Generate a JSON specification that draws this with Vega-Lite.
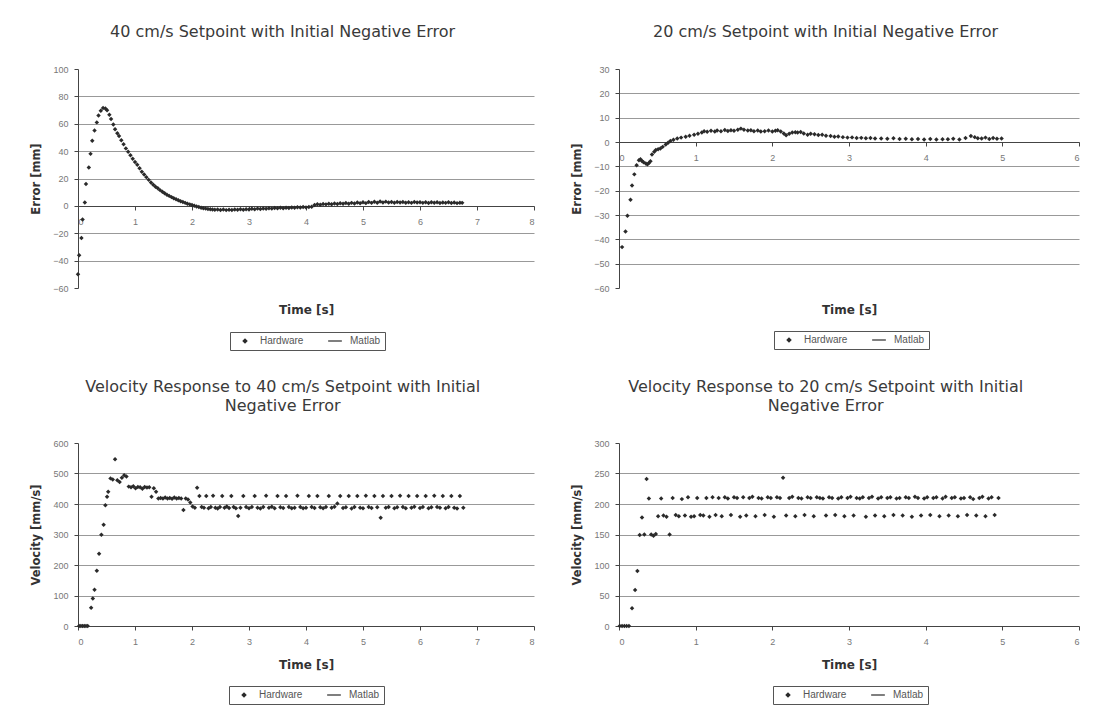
{
  "$schema": "https://vega.github.io/schema/vega-lite/v6.json",
  "background": "white",
  "padding": {"left": 30, "top": 24, "right": 5, "bottom": 5},
  "columns": 2,
  "bounds": "flush",
  "align": "each",
  "spacing": {"row": 155, "column": 85},
  "datasets": {
    "a": [
      {"t":0.00,"v":-50,"s":"Hardware"},{"t":0.02,"v":-36,"s":"Hardware"},{"t":0.06,"v":-23.5,"s":"Hardware"},{"t":0.08,"v":-10,"s":"Hardware"},{"t":0.12,"v":2.5,"s":"Hardware"},{"t":0.14,"v":16,"s":"Hardware"},{"t":0.19,"v":28,"s":"Hardware"},{"t":0.22,"v":38,"s":"Hardware"},{"t":0.25,"v":47.5,"s":"Hardware"},{"t":0.29,"v":55,"s":"Hardware"},{"t":0.33,"v":61,"s":"Hardware"},{"t":0.36,"v":66,"s":"Hardware"},{"t":0.40,"v":69.5,"s":"Hardware"},{"t":0.44,"v":71.5,"s":"Hardware"},{"t":0.48,"v":71.2,"s":"Hardware"},{"t":0.51,"v":69.8,"s":"Hardware"},{"t":0.55,"v":66.5,"s":"Hardware"},{"t":0.58,"v":63.5,"s":"Hardware"},{"t":0.62,"v":59.5,"s":"Hardware"},{"t":0.65,"v":56,"s":"Hardware"},{"t":0.69,"v":53,"s":"Hardware"},{"t":0.72,"v":51,"s":"Hardware"},{"t":0.76,"v":48,"s":"Hardware"},{"t":0.80,"v":45,"s":"Hardware"},{"t":0.84,"v":42,"s":"Hardware"},{"t":0.88,"v":39.5,"s":"Hardware"},{"t":0.92,"v":37,"s":"Hardware"},{"t":0.96,"v":34.5,"s":"Hardware"},{"t":1.00,"v":32,"s":"Hardware"},{"t":1.04,"v":30,"s":"Hardware"},{"t":1.08,"v":27.5,"s":"Hardware"},{"t":1.12,"v":25,"s":"Hardware"},{"t":1.16,"v":23,"s":"Hardware"},{"t":1.20,"v":21,"s":"Hardware"},{"t":1.24,"v":19,"s":"Hardware"},{"t":1.28,"v":17,"s":"Hardware"},{"t":1.32,"v":15.5,"s":"Hardware"},{"t":1.36,"v":14,"s":"Hardware"},{"t":1.40,"v":12.8,"s":"Hardware"},{"t":1.44,"v":11.5,"s":"Hardware"},{"t":1.48,"v":10.3,"s":"Hardware"},{"t":1.52,"v":9.2,"s":"Hardware"},{"t":1.56,"v":8.2,"s":"Hardware"},{"t":1.60,"v":7.3,"s":"Hardware"},{"t":1.64,"v":6.4,"s":"Hardware"},{"t":1.68,"v":5.6,"s":"Hardware"},{"t":1.72,"v":4.8,"s":"Hardware"},{"t":1.76,"v":4.1,"s":"Hardware"},{"t":1.80,"v":3.4,"s":"Hardware"},{"t":1.84,"v":2.8,"s":"Hardware"},{"t":1.88,"v":2.2,"s":"Hardware"},{"t":1.92,"v":1.6,"s":"Hardware"},{"t":1.96,"v":1.1,"s":"Hardware"},{"t":2.00,"v":0.6,"s":"Hardware"},{"t":2.04,"v":0.1,"s":"Hardware"},{"t":2.08,"v":-0.4,"s":"Hardware"},{"t":2.12,"v":-0.9,"s":"Hardware"},{"t":2.16,"v":-1.3,"s":"Hardware"},{"t":2.20,"v":-1.7,"s":"Hardware"},{"t":2.24,"v":-2.0,"s":"Hardware"},{"t":2.28,"v":-2.3,"s":"Hardware"},{"t":2.32,"v":-2.5,"s":"Hardware"},{"t":2.36,"v":-2.7,"s":"Hardware"},{"t":2.40,"v":-2.9,"s":"Hardware"},{"t":2.45,"v":-2.6,"s":"Hardware"},{"t":2.50,"v":-3.0,"s":"Hardware"},{"t":2.55,"v":-2.7,"s":"Hardware"},{"t":2.60,"v":-3.1,"s":"Hardware"},{"t":2.65,"v":-2.8,"s":"Hardware"},{"t":2.70,"v":-3.0,"s":"Hardware"},{"t":2.75,"v":-2.6,"s":"Hardware"},{"t":2.80,"v":-2.9,"s":"Hardware"},{"t":2.85,"v":-2.5,"s":"Hardware"},{"t":2.90,"v":-2.8,"s":"Hardware"},{"t":2.95,"v":-2.4,"s":"Hardware"},{"t":3.00,"v":-2.6,"s":"Hardware"},{"t":3.05,"v":-2.1,"s":"Hardware"},{"t":3.10,"v":-2.4,"s":"Hardware"},{"t":3.15,"v":-2.0,"s":"Hardware"},{"t":3.20,"v":-2.3,"s":"Hardware"},{"t":3.25,"v":-1.9,"s":"Hardware"},{"t":3.30,"v":-2.1,"s":"Hardware"},{"t":3.35,"v":-1.7,"s":"Hardware"},{"t":3.40,"v":-2.0,"s":"Hardware"},{"t":3.45,"v":-1.6,"s":"Hardware"},{"t":3.50,"v":-1.8,"s":"Hardware"},{"t":3.55,"v":-1.4,"s":"Hardware"},{"t":3.60,"v":-1.7,"s":"Hardware"},{"t":3.65,"v":-1.3,"s":"Hardware"},{"t":3.70,"v":-1.5,"s":"Hardware"},{"t":3.75,"v":-1.2,"s":"Hardware"},{"t":3.80,"v":-1.4,"s":"Hardware"},{"t":3.85,"v":-1.0,"s":"Hardware"},{"t":3.90,"v":-1.2,"s":"Hardware"},{"t":3.95,"v":-0.9,"s":"Hardware"},{"t":4.00,"v":-1.1,"s":"Hardware"},{"t":4.05,"v":-0.8,"s":"Hardware"},{"t":4.10,"v":-0.6,"s":"Hardware"},{"t":4.15,"v":0.6,"s":"Hardware"},{"t":4.20,"v":1.2,"s":"Hardware"},{"t":4.25,"v":0.9,"s":"Hardware"},{"t":4.30,"v":1.4,"s":"Hardware"},{"t":4.35,"v":1.1,"s":"Hardware"},{"t":4.40,"v":1.6,"s":"Hardware"},{"t":4.45,"v":1.2,"s":"Hardware"},{"t":4.50,"v":1.8,"s":"Hardware"},{"t":4.55,"v":1.3,"s":"Hardware"},{"t":4.60,"v":1.9,"s":"Hardware"},{"t":4.65,"v":1.5,"s":"Hardware"},{"t":4.70,"v":2.1,"s":"Hardware"},{"t":4.75,"v":1.6,"s":"Hardware"},{"t":4.80,"v":2.2,"s":"Hardware"},{"t":4.85,"v":1.8,"s":"Hardware"},{"t":4.90,"v":2.4,"s":"Hardware"},{"t":4.95,"v":1.9,"s":"Hardware"},{"t":5.00,"v":2.6,"s":"Hardware"},{"t":5.05,"v":2.0,"s":"Hardware"},{"t":5.10,"v":2.8,"s":"Hardware"},{"t":5.15,"v":2.2,"s":"Hardware"},{"t":5.20,"v":3.0,"s":"Hardware"},{"t":5.25,"v":2.3,"s":"Hardware"},{"t":5.30,"v":3.2,"s":"Hardware"},{"t":5.35,"v":2.5,"s":"Hardware"},{"t":5.40,"v":3.1,"s":"Hardware"},{"t":5.45,"v":2.4,"s":"Hardware"},{"t":5.50,"v":2.9,"s":"Hardware"},{"t":5.55,"v":2.3,"s":"Hardware"},{"t":5.60,"v":2.8,"s":"Hardware"},{"t":5.65,"v":2.4,"s":"Hardware"},{"t":5.70,"v":2.9,"s":"Hardware"},{"t":5.75,"v":2.3,"s":"Hardware"},{"t":5.80,"v":2.7,"s":"Hardware"},{"t":5.85,"v":2.2,"s":"Hardware"},{"t":5.90,"v":2.8,"s":"Hardware"},{"t":5.95,"v":2.4,"s":"Hardware"},{"t":6.00,"v":2.7,"s":"Hardware"},{"t":6.05,"v":2.2,"s":"Hardware"},{"t":6.10,"v":2.6,"s":"Hardware"},{"t":6.15,"v":2.1,"s":"Hardware"},{"t":6.20,"v":2.7,"s":"Hardware"},{"t":6.25,"v":2.3,"s":"Hardware"},{"t":6.30,"v":2.6,"s":"Hardware"},{"t":6.35,"v":2.1,"s":"Hardware"},{"t":6.40,"v":2.5,"s":"Hardware"},{"t":6.45,"v":2.2,"s":"Hardware"},{"t":6.50,"v":2.6,"s":"Hardware"},{"t":6.55,"v":2.1,"s":"Hardware"},{"t":6.60,"v":2.4,"s":"Hardware"},{"t":6.65,"v":2.0,"s":"Hardware"},{"t":6.70,"v":2.3,"s":"Hardware"},{"t":6.74,"v":2.2,"s":"Hardware"}
    ],
    "b": [
      {"t":0.04,"v":-43.2,"s":"Hardware"},{"t":0.085,"v":-36.8,"s":"Hardware"},{"t":0.11,"v":-30.3,"s":"Hardware"},{"t":0.15,"v":-23.7,"s":"Hardware"},{"t":0.17,"v":-17.9,"s":"Hardware"},{"t":0.20,"v":-13.3,"s":"Hardware"},{"t":0.23,"v":-9.6,"s":"Hardware"},{"t":0.26,"v":-7.5,"s":"Hardware"},{"t":0.28,"v":-7.1,"s":"Hardware"},{"t":0.30,"v":-7.8,"s":"Hardware"},{"t":0.32,"v":-8.3,"s":"Hardware"},{"t":0.35,"v":-8.8,"s":"Hardware"},{"t":0.37,"v":-9.2,"s":"Hardware"},{"t":0.39,"v":-8.6,"s":"Hardware"},{"t":0.41,"v":-7.9,"s":"Hardware"},{"t":0.43,"v":-5.1,"s":"Hardware"},{"t":0.46,"v":-4.0,"s":"Hardware"},{"t":0.48,"v":-3.3,"s":"Hardware"},{"t":0.51,"v":-3.0,"s":"Hardware"},{"t":0.54,"v":-2.7,"s":"Hardware"},{"t":0.57,"v":-2.0,"s":"Hardware"},{"t":0.61,"v":-1.0,"s":"Hardware"},{"t":0.64,"v":-0.3,"s":"Hardware"},{"t":0.67,"v":0.4,"s":"Hardware"},{"t":0.71,"v":0.9,"s":"Hardware"},{"t":0.76,"v":1.4,"s":"Hardware"},{"t":0.81,"v":1.8,"s":"Hardware"},{"t":0.87,"v":2.2,"s":"Hardware"},{"t":0.92,"v":2.6,"s":"Hardware"},{"t":0.98,"v":3.0,"s":"Hardware"},{"t":1.03,"v":3.4,"s":"Hardware"},{"t":1.08,"v":3.9,"s":"Hardware"},{"t":1.11,"v":4.4,"s":"Hardware"},{"t":1.15,"v":4.2,"s":"Hardware"},{"t":1.20,"v":4.6,"s":"Hardware"},{"t":1.25,"v":4.3,"s":"Hardware"},{"t":1.28,"v":4.7,"s":"Hardware"},{"t":1.33,"v":4.4,"s":"Hardware"},{"t":1.38,"v":4.9,"s":"Hardware"},{"t":1.42,"v":4.5,"s":"Hardware"},{"t":1.46,"v":4.8,"s":"Hardware"},{"t":1.50,"v":4.6,"s":"Hardware"},{"t":1.55,"v":5.0,"s":"Hardware"},{"t":1.59,"v":5.5,"s":"Hardware"},{"t":1.63,"v":5.0,"s":"Hardware"},{"t":1.68,"v":4.7,"s":"Hardware"},{"t":1.72,"v":4.8,"s":"Hardware"},{"t":1.76,"v":4.4,"s":"Hardware"},{"t":1.81,"v":4.7,"s":"Hardware"},{"t":1.85,"v":4.3,"s":"Hardware"},{"t":1.90,"v":4.4,"s":"Hardware"},{"t":1.95,"v":4.7,"s":"Hardware"},{"t":2.00,"v":4.3,"s":"Hardware"},{"t":2.04,"v":4.6,"s":"Hardware"},{"t":2.07,"v":4.8,"s":"Hardware"},{"t":2.11,"v":4.3,"s":"Hardware"},{"t":2.15,"v":3.5,"s":"Hardware"},{"t":2.18,"v":2.8,"s":"Hardware"},{"t":2.22,"v":3.4,"s":"Hardware"},{"t":2.26,"v":3.9,"s":"Hardware"},{"t":2.30,"v":4.0,"s":"Hardware"},{"t":2.33,"v":3.9,"s":"Hardware"},{"t":2.37,"v":4.1,"s":"Hardware"},{"t":2.41,"v":3.5,"s":"Hardware"},{"t":2.46,"v":3.0,"s":"Hardware"},{"t":2.50,"v":3.4,"s":"Hardware"},{"t":2.55,"v":3.2,"s":"Hardware"},{"t":2.60,"v":2.9,"s":"Hardware"},{"t":2.65,"v":3.0,"s":"Hardware"},{"t":2.70,"v":2.6,"s":"Hardware"},{"t":2.76,"v":2.5,"s":"Hardware"},{"t":2.81,"v":2.2,"s":"Hardware"},{"t":2.86,"v":2.3,"s":"Hardware"},{"t":2.92,"v":2.0,"s":"Hardware"},{"t":2.98,"v":1.8,"s":"Hardware"},{"t":3.04,"v":1.9,"s":"Hardware"},{"t":3.10,"v":1.6,"s":"Hardware"},{"t":3.16,"v":1.7,"s":"Hardware"},{"t":3.22,"v":1.5,"s":"Hardware"},{"t":3.28,"v":1.6,"s":"Hardware"},{"t":3.34,"v":1.4,"s":"Hardware"},{"t":3.42,"v":1.4,"s":"Hardware"},{"t":3.50,"v":1.3,"s":"Hardware"},{"t":3.58,"v":1.5,"s":"Hardware"},{"t":3.66,"v":1.2,"s":"Hardware"},{"t":3.74,"v":1.3,"s":"Hardware"},{"t":3.82,"v":1.1,"s":"Hardware"},{"t":3.90,"v":1.2,"s":"Hardware"},{"t":3.98,"v":1.0,"s":"Hardware"},{"t":4.06,"v":1.2,"s":"Hardware"},{"t":4.14,"v":1.0,"s":"Hardware"},{"t":4.22,"v":1.1,"s":"Hardware"},{"t":4.29,"v":1.1,"s":"Hardware"},{"t":4.36,"v":1.3,"s":"Hardware"},{"t":4.44,"v":1.0,"s":"Hardware"},{"t":4.52,"v":1.6,"s":"Hardware"},{"t":4.59,"v":2.5,"s":"Hardware"},{"t":4.64,"v":2.0,"s":"Hardware"},{"t":4.68,"v":1.5,"s":"Hardware"},{"t":4.73,"v":1.4,"s":"Hardware"},{"t":4.78,"v":1.8,"s":"Hardware"},{"t":4.83,"v":1.2,"s":"Hardware"},{"t":4.88,"v":1.6,"s":"Hardware"},{"t":4.93,"v":1.3,"s":"Hardware"},{"t":4.99,"v":1.4,"s":"Hardware"}
    ],
    "c": [
      {"t":0.02,"v":0,"s":"Hardware"},{"t":0.05,"v":0,"s":"Hardware"},{"t":0.08,"v":0,"s":"Hardware"},{"t":0.11,"v":0,"s":"Hardware"},{"t":0.14,"v":0,"s":"Hardware"},{"t":0.17,"v":0,"s":"Hardware"},{"t":0.23,"v":60,"s":"Hardware"},{"t":0.26,"v":90,"s":"Hardware"},{"t":0.29,"v":119,"s":"Hardware"},{"t":0.33,"v":181,"s":"Hardware"},{"t":0.37,"v":237,"s":"Hardware"},{"t":0.41,"v":299,"s":"Hardware"},{"t":0.45,"v":332,"s":"Hardware"},{"t":0.48,"v":396,"s":"Hardware"},{"t":0.51,"v":424,"s":"Hardware"},{"t":0.53,"v":440,"s":"Hardware"},{"t":0.57,"v":484,"s":"Hardware"},{"t":0.61,"v":480,"s":"Hardware"},{"t":0.65,"v":547,"s":"Hardware"},{"t":0.69,"v":478,"s":"Hardware"},{"t":0.73,"v":472,"s":"Hardware"},{"t":0.77,"v":486,"s":"Hardware"},{"t":0.81,"v":494,"s":"Hardware"},{"t":0.85,"v":490,"s":"Hardware"},{"t":0.89,"v":457,"s":"Hardware"},{"t":0.93,"v":455,"s":"Hardware"},{"t":0.97,"v":458,"s":"Hardware"},{"t":1.01,"v":452,"s":"Hardware"},{"t":1.05,"v":456,"s":"Hardware"},{"t":1.09,"v":455,"s":"Hardware"},{"t":1.13,"v":450,"s":"Hardware"},{"t":1.17,"v":456,"s":"Hardware"},{"t":1.21,"v":454,"s":"Hardware"},{"t":1.25,"v":455,"s":"Hardware"},{"t":1.29,"v":424,"s":"Hardware"},{"t":1.33,"v":452,"s":"Hardware"},{"t":1.37,"v":440,"s":"Hardware"},{"t":1.41,"v":418,"s":"Hardware"},{"t":1.45,"v":420,"s":"Hardware"},{"t":1.49,"v":418,"s":"Hardware"},{"t":1.53,"v":421,"s":"Hardware"},{"t":1.57,"v":418,"s":"Hardware"},{"t":1.61,"v":420,"s":"Hardware"},{"t":1.65,"v":417,"s":"Hardware"},{"t":1.69,"v":421,"s":"Hardware"},{"t":1.73,"v":418,"s":"Hardware"},{"t":1.77,"v":420,"s":"Hardware"},{"t":1.81,"v":418,"s":"Hardware"},{"t":1.85,"v":380,"s":"Hardware"},{"t":1.89,"v":418,"s":"Hardware"},{"t":1.93,"v":415,"s":"Hardware"},{"t":1.97,"v":405,"s":"Hardware"},{"t":2.01,"v":392,"s":"Hardware"},{"t":2.05,"v":388,"s":"Hardware"},{"t":2.09,"v":453,"s":"Hardware"},{"t":2.13,"v":426,"s":"Hardware"},{"t":2.17,"v":390,"s":"Hardware"},{"t":2.21,"v":388,"s":"Hardware"},{"t":2.25,"v":426,"s":"Hardware"},{"t":2.29,"v":386,"s":"Hardware"},{"t":2.33,"v":390,"s":"Hardware"},{"t":2.37,"v":427,"s":"Hardware"},{"t":2.41,"v":388,"s":"Hardware"},{"t":2.45,"v":385,"s":"Hardware"},{"t":2.49,"v":390,"s":"Hardware"},{"t":2.53,"v":426,"s":"Hardware"},{"t":2.57,"v":388,"s":"Hardware"},{"t":2.61,"v":392,"s":"Hardware"},{"t":2.65,"v":387,"s":"Hardware"},{"t":2.69,"v":426,"s":"Hardware"},{"t":2.73,"v":390,"s":"Hardware"},{"t":2.77,"v":386,"s":"Hardware"},{"t":2.81,"v":361,"s":"Hardware"},{"t":2.85,"v":388,"s":"Hardware"},{"t":2.90,"v":426,"s":"Hardware"},{"t":2.95,"v":390,"s":"Hardware"},{"t":3.00,"v":386,"s":"Hardware"},{"t":3.05,"v":390,"s":"Hardware"},{"t":3.10,"v":426,"s":"Hardware"},{"t":3.15,"v":388,"s":"Hardware"},{"t":3.20,"v":385,"s":"Hardware"},{"t":3.25,"v":390,"s":"Hardware"},{"t":3.30,"v":427,"s":"Hardware"},{"t":3.35,"v":388,"s":"Hardware"},{"t":3.40,"v":391,"s":"Hardware"},{"t":3.45,"v":386,"s":"Hardware"},{"t":3.50,"v":426,"s":"Hardware"},{"t":3.55,"v":389,"s":"Hardware"},{"t":3.60,"v":387,"s":"Hardware"},{"t":3.65,"v":426,"s":"Hardware"},{"t":3.70,"v":390,"s":"Hardware"},{"t":3.75,"v":386,"s":"Hardware"},{"t":3.80,"v":388,"s":"Hardware"},{"t":3.85,"v":427,"s":"Hardware"},{"t":3.90,"v":390,"s":"Hardware"},{"t":3.95,"v":386,"s":"Hardware"},{"t":4.00,"v":388,"s":"Hardware"},{"t":4.05,"v":426,"s":"Hardware"},{"t":4.10,"v":390,"s":"Hardware"},{"t":4.15,"v":387,"s":"Hardware"},{"t":4.20,"v":426,"s":"Hardware"},{"t":4.25,"v":389,"s":"Hardware"},{"t":4.30,"v":386,"s":"Hardware"},{"t":4.35,"v":390,"s":"Hardware"},{"t":4.40,"v":426,"s":"Hardware"},{"t":4.45,"v":388,"s":"Hardware"},{"t":4.50,"v":391,"s":"Hardware"},{"t":4.55,"v":402,"s":"Hardware"},{"t":4.60,"v":426,"s":"Hardware"},{"t":4.65,"v":387,"s":"Hardware"},{"t":4.70,"v":389,"s":"Hardware"},{"t":4.75,"v":426,"s":"Hardware"},{"t":4.80,"v":385,"s":"Hardware"},{"t":4.85,"v":390,"s":"Hardware"},{"t":4.90,"v":426,"s":"Hardware"},{"t":4.95,"v":388,"s":"Hardware"},{"t":5.00,"v":386,"s":"Hardware"},{"t":5.05,"v":427,"s":"Hardware"},{"t":5.10,"v":390,"s":"Hardware"},{"t":5.15,"v":387,"s":"Hardware"},{"t":5.20,"v":426,"s":"Hardware"},{"t":5.25,"v":389,"s":"Hardware"},{"t":5.31,"v":355,"s":"Hardware"},{"t":5.35,"v":426,"s":"Hardware"},{"t":5.40,"v":388,"s":"Hardware"},{"t":5.45,"v":390,"s":"Hardware"},{"t":5.50,"v":426,"s":"Hardware"},{"t":5.55,"v":386,"s":"Hardware"},{"t":5.60,"v":389,"s":"Hardware"},{"t":5.65,"v":427,"s":"Hardware"},{"t":5.70,"v":390,"s":"Hardware"},{"t":5.75,"v":386,"s":"Hardware"},{"t":5.80,"v":426,"s":"Hardware"},{"t":5.85,"v":388,"s":"Hardware"},{"t":5.90,"v":391,"s":"Hardware"},{"t":5.95,"v":426,"s":"Hardware"},{"t":6.00,"v":387,"s":"Hardware"},{"t":6.05,"v":390,"s":"Hardware"},{"t":6.10,"v":426,"s":"Hardware"},{"t":6.15,"v":386,"s":"Hardware"},{"t":6.20,"v":389,"s":"Hardware"},{"t":6.25,"v":427,"s":"Hardware"},{"t":6.30,"v":390,"s":"Hardware"},{"t":6.35,"v":388,"s":"Hardware"},{"t":6.40,"v":426,"s":"Hardware"},{"t":6.45,"v":386,"s":"Hardware"},{"t":6.50,"v":390,"s":"Hardware"},{"t":6.55,"v":426,"s":"Hardware"},{"t":6.60,"v":388,"s":"Hardware"},{"t":6.65,"v":385,"s":"Hardware"},{"t":6.70,"v":426,"s":"Hardware"},{"t":6.76,"v":388,"s":"Hardware"}
    ],
    "d": [
      {"t":0.01,"v":0,"s":"Hardware"},{"t":0.04,"v":0,"s":"Hardware"},{"t":0.07,"v":0,"s":"Hardware"},{"t":0.10,"v":0,"s":"Hardware"},{"t":0.13,"v":0,"s":"Hardware"},{"t":0.17,"v":29,"s":"Hardware"},{"t":0.21,"v":59,"s":"Hardware"},{"t":0.24,"v":90,"s":"Hardware"},{"t":0.27,"v":149,"s":"Hardware"},{"t":0.30,"v":178,"s":"Hardware"},{"t":0.33,"v":150,"s":"Hardware"},{"t":0.36,"v":241,"s":"Hardware"},{"t":0.39,"v":209,"s":"Hardware"},{"t":0.42,"v":150,"s":"Hardware"},{"t":0.45,"v":148,"s":"Hardware"},{"t":0.48,"v":151,"s":"Hardware"},{"t":0.51,"v":180,"s":"Hardware"},{"t":0.55,"v":209,"s":"Hardware"},{"t":0.58,"v":181,"s":"Hardware"},{"t":0.62,"v":179,"s":"Hardware"},{"t":0.66,"v":150,"s":"Hardware"},{"t":0.70,"v":210,"s":"Hardware"},{"t":0.74,"v":182,"s":"Hardware"},{"t":0.78,"v":180,"s":"Hardware"},{"t":0.82,"v":208,"s":"Hardware"},{"t":0.86,"v":181,"s":"Hardware"},{"t":0.90,"v":211,"s":"Hardware"},{"t":0.94,"v":179,"s":"Hardware"},{"t":0.98,"v":180,"s":"Hardware"},{"t":1.02,"v":210,"s":"Hardware"},{"t":1.06,"v":182,"s":"Hardware"},{"t":1.10,"v":181,"s":"Hardware"},{"t":1.14,"v":210,"s":"Hardware"},{"t":1.18,"v":179,"s":"Hardware"},{"t":1.22,"v":211,"s":"Hardware"},{"t":1.26,"v":182,"s":"Hardware"},{"t":1.30,"v":210,"s":"Hardware"},{"t":1.34,"v":180,"s":"Hardware"},{"t":1.38,"v":211,"s":"Hardware"},{"t":1.42,"v":209,"s":"Hardware"},{"t":1.46,"v":182,"s":"Hardware"},{"t":1.50,"v":211,"s":"Hardware"},{"t":1.54,"v":210,"s":"Hardware"},{"t":1.58,"v":179,"s":"Hardware"},{"t":1.62,"v":211,"s":"Hardware"},{"t":1.66,"v":181,"s":"Hardware"},{"t":1.70,"v":210,"s":"Hardware"},{"t":1.74,"v":212,"s":"Hardware"},{"t":1.78,"v":180,"s":"Hardware"},{"t":1.82,"v":210,"s":"Hardware"},{"t":1.86,"v":209,"s":"Hardware"},{"t":1.90,"v":182,"s":"Hardware"},{"t":1.94,"v":211,"s":"Hardware"},{"t":1.98,"v":210,"s":"Hardware"},{"t":2.02,"v":179,"s":"Hardware"},{"t":2.06,"v":211,"s":"Hardware"},{"t":2.10,"v":210,"s":"Hardware"},{"t":2.14,"v":243,"s":"Hardware"},{"t":2.18,"v":181,"s":"Hardware"},{"t":2.22,"v":210,"s":"Hardware"},{"t":2.26,"v":212,"s":"Hardware"},{"t":2.30,"v":180,"s":"Hardware"},{"t":2.34,"v":210,"s":"Hardware"},{"t":2.38,"v":209,"s":"Hardware"},{"t":2.42,"v":182,"s":"Hardware"},{"t":2.46,"v":211,"s":"Hardware"},{"t":2.50,"v":210,"s":"Hardware"},{"t":2.54,"v":180,"s":"Hardware"},{"t":2.58,"v":211,"s":"Hardware"},{"t":2.62,"v":210,"s":"Hardware"},{"t":2.66,"v":209,"s":"Hardware"},{"t":2.70,"v":181,"s":"Hardware"},{"t":2.74,"v":211,"s":"Hardware"},{"t":2.78,"v":210,"s":"Hardware"},{"t":2.82,"v":182,"s":"Hardware"},{"t":2.86,"v":209,"s":"Hardware"},{"t":2.90,"v":211,"s":"Hardware"},{"t":2.94,"v":180,"s":"Hardware"},{"t":2.98,"v":210,"s":"Hardware"},{"t":3.02,"v":212,"s":"Hardware"},{"t":3.06,"v":181,"s":"Hardware"},{"t":3.10,"v":210,"s":"Hardware"},{"t":3.14,"v":209,"s":"Hardware"},{"t":3.18,"v":211,"s":"Hardware"},{"t":3.22,"v":179,"s":"Hardware"},{"t":3.26,"v":210,"s":"Hardware"},{"t":3.30,"v":212,"s":"Hardware"},{"t":3.34,"v":181,"s":"Hardware"},{"t":3.38,"v":209,"s":"Hardware"},{"t":3.42,"v":211,"s":"Hardware"},{"t":3.46,"v":180,"s":"Hardware"},{"t":3.50,"v":210,"s":"Hardware"},{"t":3.54,"v":211,"s":"Hardware"},{"t":3.58,"v":182,"s":"Hardware"},{"t":3.62,"v":209,"s":"Hardware"},{"t":3.66,"v":210,"s":"Hardware"},{"t":3.70,"v":181,"s":"Hardware"},{"t":3.74,"v":211,"s":"Hardware"},{"t":3.78,"v":210,"s":"Hardware"},{"t":3.82,"v":179,"s":"Hardware"},{"t":3.86,"v":212,"s":"Hardware"},{"t":3.90,"v":210,"s":"Hardware"},{"t":3.94,"v":181,"s":"Hardware"},{"t":3.98,"v":209,"s":"Hardware"},{"t":4.02,"v":211,"s":"Hardware"},{"t":4.06,"v":182,"s":"Hardware"},{"t":4.10,"v":210,"s":"Hardware"},{"t":4.14,"v":211,"s":"Hardware"},{"t":4.18,"v":180,"s":"Hardware"},{"t":4.22,"v":209,"s":"Hardware"},{"t":4.26,"v":212,"s":"Hardware"},{"t":4.30,"v":181,"s":"Hardware"},{"t":4.34,"v":210,"s":"Hardware"},{"t":4.38,"v":211,"s":"Hardware"},{"t":4.42,"v":180,"s":"Hardware"},{"t":4.46,"v":209,"s":"Hardware"},{"t":4.50,"v":210,"s":"Hardware"},{"t":4.54,"v":182,"s":"Hardware"},{"t":4.58,"v":211,"s":"Hardware"},{"t":4.62,"v":208,"s":"Hardware"},{"t":4.66,"v":181,"s":"Hardware"},{"t":4.70,"v":210,"s":"Hardware"},{"t":4.74,"v":212,"s":"Hardware"},{"t":4.78,"v":180,"s":"Hardware"},{"t":4.82,"v":209,"s":"Hardware"},{"t":4.86,"v":211,"s":"Hardware"},{"t":4.90,"v":182,"s":"Hardware"},{"t":4.95,"v":210,"s":"Hardware"}
    ]
  },
  "concat": [
    {
      "title": {"text": "40 cm/s Setpoint with Initial Negative Error"},
      "width": 456, "height": 219,
      "data": {"name": "a"},
      "mark": {"type": "point", "filled": true, "size": 20, "opacity": 1, "color": "#2a2a2a"},
      "encoding": {
        "x": {"field": "t", "type": "quantitative", "scale": {"domain": [0, 8], "nice": false},
              "axis": {"title": "Time [s]", "values": [0,1,2,3,4,5,6,7,8], "offset": -82, "titleY": 103, "titleBaseline": "middle", "grid": false}},
        "y": {"field": "v", "type": "quantitative", "scale": {"domain": [-60, 100], "nice": false},
              "axis": {"title": "Error [mm]", "values": [-60,-40,-20,0,20,40,60,80,100],
                       "gridOpacity": {"condition": {"test": "datum.value === 100 || datum.value === -60", "value": 0}, "value": 1}}},
        "shape": {"field": "s", "type": "nominal", "scale": {"domain": ["Hardware", "Matlab"], "range": ["diamond", "M-2.5,-0.22H2.5V0.22H-2.5Z"]},
                  "legend": {"orient": "none", "legendX": 152, "legendY": 263, "direction": "horizontal", "title": null}}
      }
    },
    {
      "title": {"text": "20 cm/s Setpoint with Initial Negative Error"},
      "width": 460, "height": 219,
      "data": {"name": "b"},
      "mark": {"type": "point", "filled": true, "size": 20, "opacity": 1, "color": "#2a2a2a"},
      "encoding": {
        "x": {"field": "t", "type": "quantitative", "scale": {"domain": [0, 6], "nice": false},
              "axis": {"title": "Time [s]", "values": [0,1,2,3,4,5,6], "offset": -146, "titleY": 167, "titleBaseline": "middle", "grid": false}},
        "y": {"field": "v", "type": "quantitative", "scale": {"domain": [-60, 30], "nice": false},
              "axis": {"title": "Error [mm]", "values": [-60,-50,-40,-30,-20,-10,0,10,20,30],
                       "gridOpacity": {"condition": {"test": "datum.value === 30 || datum.value === -60", "value": 0}, "value": 1}}},
        "shape": {"field": "s", "type": "nominal", "scale": {"domain": ["Hardware", "Matlab"], "range": ["diamond", "M-2.5,-0.22H2.5V0.22H-2.5Z"]},
                  "legend": {"orient": "none", "legendX": 155, "legendY": 262, "direction": "horizontal", "title": null}}
      }
    },
    {
      "title": {"text": ["Velocity Response to 40 cm/s Setpoint with Initial", "Negative Error"]},
      "width": 456, "height": 183,
      "data": {"name": "c"},
      "mark": {"type": "point", "filled": true, "size": 20, "opacity": 1, "color": "#2a2a2a"},
      "encoding": {
        "x": {"field": "t", "type": "quantitative", "scale": {"domain": [0, 8], "nice": false},
              "axis": {"title": "Time [s]", "values": [0,1,2,3,4,5,6,7,8], "titleY": 38, "titleBaseline": "middle", "grid": false}},
        "y": {"field": "v", "type": "quantitative", "scale": {"domain": [0, 600], "nice": false},
              "axis": {"title": "Velocity [mm/s]", "values": [0,100,200,300,400,500,600],
                       "gridOpacity": {"condition": {"test": "datum.value === 600 || datum.value === 0", "value": 0}, "value": 1}}},
        "shape": {"field": "s", "type": "nominal", "scale": {"domain": ["Hardware", "Matlab"], "range": ["diamond", "M-2.5,-0.22H2.5V0.22H-2.5Z"]},
                  "legend": {"orient": "none", "legendX": 151, "legendY": 243, "direction": "horizontal", "title": null}}
      }
    },
    {
      "title": {"text": ["Velocity Response to 20 cm/s Setpoint with Initial", "Negative Error"]},
      "width": 460, "height": 183,
      "data": {"name": "d"},
      "mark": {"type": "point", "filled": true, "size": 20, "opacity": 1, "color": "#2a2a2a"},
      "encoding": {
        "x": {"field": "t", "type": "quantitative", "scale": {"domain": [0, 6], "nice": false},
              "axis": {"title": "Time [s]", "values": [0,1,2,3,4,5,6], "titleY": 38, "titleBaseline": "middle", "grid": false}},
        "y": {"field": "v", "type": "quantitative", "scale": {"domain": [0, 300], "nice": false},
              "axis": {"title": "Velocity [mm/s]", "values": [0,50,100,150,200,250,300],
                       "gridOpacity": {"condition": {"test": "datum.value === 300 || datum.value === 0", "value": 0}, "value": 1}}},
        "shape": {"field": "s", "type": "nominal", "scale": {"domain": ["Hardware", "Matlab"], "range": ["diamond", "M-2.5,-0.22H2.5V0.22H-2.5Z"]},
                  "legend": {"orient": "none", "legendX": 154, "legendY": 243, "direction": "horizontal", "title": null}}
      }
    }
  ],
  "resolve": {"scale": {"shape": "independent"}, "legend": {"shape": "independent"}},
  "config": {
    "font": "Liberation Sans",
    "view": {"stroke": null},
    "title": {"font": "DejaVu Sans", "fontSize": 16, "fontWeight": "normal", "color": "#3a3a3a", "offset": 25, "lineHeight": 19.5, "anchor": "middle", "frame": "bounds"},
    "axis": {
      "labelFontSize": 9, "labelColor": "#777",
      "titleFont": "DejaVu Sans", "titleFontWeight": "bold", "titleColor": "#333",
      "domainColor": "#444", "tickColor": "#444", "tickSize": 4,
      "gridColor": "#999", "gridWidth": 1
    },
    "axisX": {"labelPadding": 7, "titleFontSize": 12},
    "axisY": {"labelPadding": 6, "titlePadding": 11, "titleFontSize": 11.5},
    "legend": {
      "strokeColor": "#555", "fillColor": "white", "padding": 4,
      "labelFontSize": 10, "labelColor": "#555", "symbolSize": 30,
      "symbolFillColor": "#333", "symbolStrokeWidth": 0,
      "columnPadding": 20, "symbolOffset": 6, "labelOffset": 10
    }
  }
}
